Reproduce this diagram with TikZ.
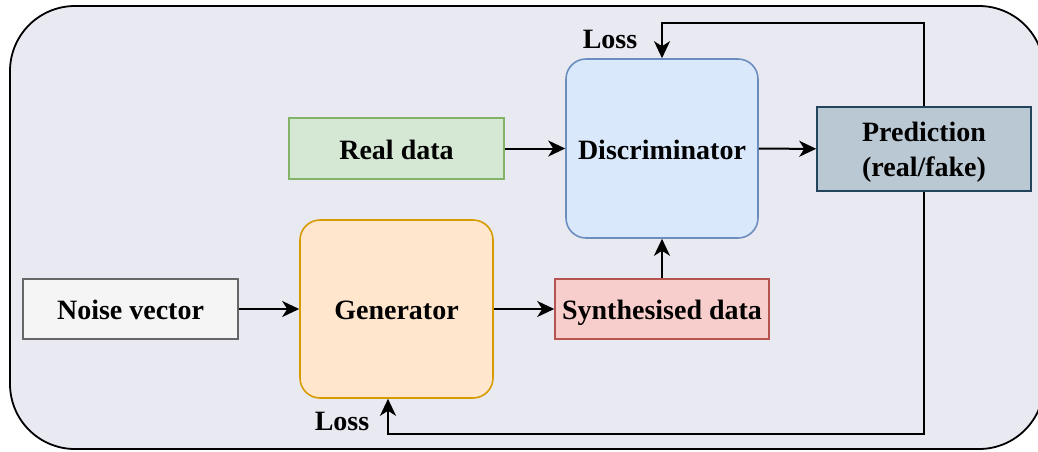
\documentclass[tikz,border=0pt]{standalone}
\usepackage{fontspec}
\setmainfont{Liberation Serif}
\usetikzlibrary{arrows.meta}

\definecolor{panelbg}{HTML}{E9E9F2}
\definecolor{greyfill}{HTML}{F5F5F5}\definecolor{greyline}{HTML}{666666}
\definecolor{orfill}{HTML}{FFE6CC}\definecolor{orline}{HTML}{D79B00}
\definecolor{grfill}{HTML}{D5E8D4}\definecolor{grline}{HTML}{82B366}
\definecolor{blfill}{HTML}{DAE8FC}\definecolor{blline}{HTML}{6C8EBF}
\definecolor{rdfill}{HTML}{F8CECC}\definecolor{rdline}{HTML}{B85450}
\definecolor{slfill}{HTML}{BAC8D3}\definecolor{slline}{HTML}{23445D}

\tikzset{
  box/.style={draw, line width=1.6pt, inner sep=0pt, align=center,
    font=\fontsize{28}{35}\selectfont\bfseries, text depth=0pt},
  oneline/.style={text height=21pt},
  rbox/.style={box, oneline, rounded corners=20pt},
  lbl/.style={inner sep=0pt, font=\fontsize{28}{35}\selectfont\bfseries},
  arr/.style={line width=2pt, -{Stealth[length=17pt,width=16pt,inset=5pt]}},
}

\begin{document}
\begin{tikzpicture}[x=1pt,y=-1pt]
  \useasboundingbox (0,0) rectangle (1038,451);
  % panel
  \draw[fill=panelbg, line width=1.8pt, rounded corners=65pt] (10,6) rectangle (1044,449);

  % blocks
  \node[box, oneline, fill=greyfill, draw=greyline, minimum width=215pt, minimum height=60pt] (noise) at (130.5,309) {Noise vector};
  \node[rbox, fill=orfill, draw=orline, minimum width=193pt, minimum height=178pt] (gen) at (396.5,309) {Generator};
  \node[box, oneline, fill=grfill, draw=grline, minimum width=215pt, minimum height=61pt] (real) at (396.5,148.5) {Real data};
  \node[rbox, fill=blfill, draw=blline, minimum width=192pt, minimum height=179pt] (disc) at (662,148.5) {Discriminator};
  \node[box, oneline, fill=rdfill, draw=rdline, minimum width=214pt, minimum height=60pt] (synth) at (662,309) {Synthesised data};
  \node[box, fill=slfill, draw=slline, minimum width=214pt, minimum height=84pt] (pred) at (924,149) {Prediction\\(real/fake)};

  % forward connections
  \draw[arr] (noise) -- (gen);
  \draw[arr] (gen) -- (synth);
  \draw[arr] (real) -- (disc);
  \draw[arr] (synth) -- (disc);
  \draw[arr] (disc) -- (pred);

  % feedback loops
  \coordinate (topy) at (0,23);
  \coordinate (boty) at (0,434);
  \coordinate (gin) at ([xshift=-8.5pt]gen.south);
  \draw[arr] (pred.north) |- (disc.north |- topy) -- (disc.north);
  \draw[arr] (pred.south) |- (gin |- boty) -- (gin);

  \node[lbl] (losstop) at (610,39) {Loss};
  \node[lbl] (lossbot) at (342,421) {Loss};
\end{tikzpicture}
\end{document}
